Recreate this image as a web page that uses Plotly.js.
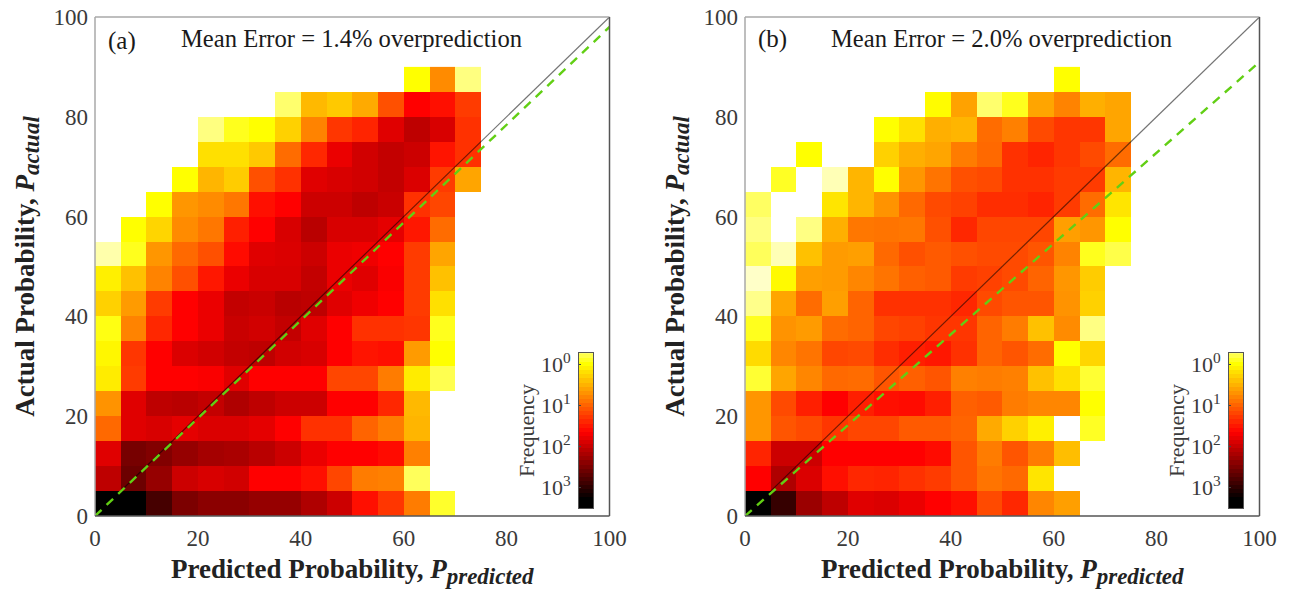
<!DOCTYPE html>
<html>
<head>
<meta charset="utf-8">
<script src="https://cdn.plot.ly/plotly-3.0.1.min.js"></script>
<style>html,body{margin:0;padding:0;background:#fff}#chart{width:1289px;height:595px}</style>
</head>
<body>
<div id="chart"></div>
<script>
// Bin centres of the 5-unit probability bins
var predictedBins = [2.5,7.5,12.5,17.5,22.5,27.5,32.5,37.5,42.5,47.5,52.5,57.5,62.5,67.5,72.5];
var actualBins = [2.5,7.5,12.5,17.5,22.5,27.5,32.5,37.5,42.5,47.5,52.5,57.5,62.5,67.5,72.5,77.5,82.5,87.5];

// log10(frequency) of each cell; first row is the lowest
var N = null;
var logFreqA = [
[3.3,3.3,2.85,2.5,2.4,2.4,2.33,2.33,2.17,1.98,1.55,1.3,.85,-.12,N],
[2.07,2.6,2.33,1.98,1.9,1.95,1.65,1.65,1.55,1.2,.85,.82,-.25,N,N],
[1.85,2.53,2.46,2.33,2.23,2.2,2.1,1.98,1.78,1.65,1.65,1.58,.82,N,N],
[.97,1.85,1.9,1.82,1.88,1.88,1.82,1.65,1.33,1.33,1.0,.85,.48,N,N],
[.7,1.85,2.07,2.1,2.04,2.17,2.07,1.98,1.98,1.65,1.65,1.4,.45,N,N],
[.12,1.27,1.65,1.65,1.68,1.85,1.65,1.65,1.65,1.2,1.2,.85,.12,-.22,N],
[.05,1.3,1.65,1.88,1.95,2.04,2.07,1.95,1.9,1.65,1.52,1.55,.65,0,N],
[-.05,.8,1.4,1.65,1.78,2.0,1.95,2.04,1.85,1.65,1.33,1.33,1.3,-.08,N],
[.3,.65,1.27,1.65,1.78,2.04,2.0,2.1,2.07,1.85,1.75,1.65,1.27,.2,N],
[.1,.4,.8,1.13,1.5,1.78,1.9,1.9,2.04,1.78,1.85,1.68,1.27,.4,N],
[-.47,-.08,.68,.97,1.13,1.58,1.85,1.88,1.98,1.78,1.75,1.65,1.27,.58,N],
[N,0,.27,.75,.88,1.45,1.65,1.9,2.1,1.9,1.9,1.82,1.5,.95,N],
[N,N,0,.68,.75,.88,1.55,1.65,1.98,1.98,2.07,2.0,1.33,1.2,N],
[N,N,N,0,.48,.33,1.13,1.33,1.85,1.9,1.95,2.04,1.88,1.27,.58],
[N,N,N,N,.2,.2,.35,.95,1.4,1.78,1.95,2.04,1.98,1.52,1.33],
[N,N,N,N,-.35,-.08,0,.3,.8,1.3,1.42,1.85,2.07,1.9,1.33],
[N,N,N,N,N,N,N,-.3,.45,.35,.55,1.13,1.65,1.55,1.27],
[N,N,N,N,N,N,N,N,N,N,N,N,0,.75,-.35]
];
var logFreqB = [
[3.3,2.95,2.3,2.07,1.85,1.88,1.78,1.65,1.55,1.17,1.4,.78,.62,N,N],
[1.65,2.17,1.88,1.55,1.4,1.42,1.33,1.27,1.1,.9,.97,.17,N,N,N],
[1.42,1.98,1.98,1.65,1.65,1.65,1.65,1.58,1.1,.85,1.1,.85,.42,N,N],
[.68,1.1,1.17,1.3,1.2,1.2,1.07,1.07,1.0,.55,.3,.1,N,-.1,N],
[.68,1.17,1.45,1.65,1.45,1.55,1.58,1.45,1.03,1.07,.85,.78,.78,0,N],
[-.14,.58,.78,.97,.95,1.1,1.03,1.1,.82,.85,.82,.4,.2,-.14,N],
[.23,.78,.9,1.2,1.17,1.36,1.45,1.5,1.33,1.0,1.1,.95,0,.27,N],
[-.08,.7,.65,.95,1.0,1.2,1.23,1.3,1.3,1.0,.85,.4,.75,-.36,N],
[-.38,.58,.95,.62,1.0,1.33,1.33,1.33,1.4,1.17,1.1,1.1,.7,.3,N],
[-.55,.03,.62,.65,.78,.9,1.03,1.07,1.27,1.23,1.17,1.0,.68,.33,N],
[-.25,-.5,.4,.65,.62,.97,1.13,1.07,1.13,1.17,1.17,1.1,.8,-.08,-.2],
[-.36,N,-.36,.52,.88,.9,.88,1.13,1.4,1.2,1.2,1.2,.62,.68,0],
[-.27,N,N,.17,.48,.7,.97,1.17,1.23,1.36,1.36,1.42,1.27,.95,.17],
[N,-.1,N,-.5,.48,0,.68,.9,1.13,1.17,1.33,1.33,1.27,1.27,.48],
[N,N,0,N,N,.3,.52,.58,.85,.97,1.33,1.42,1.3,1.17,.95],
[N,N,N,N,N,0,.2,.52,.48,.95,.82,1.17,1.3,1.3,.58],
[N,N,N,N,N,N,N,.02,.6,-.3,-.08,.58,.8,.52,.58],
[N,N,N,N,N,N,N,N,N,N,N,N,0,N,N]
];

var identityX = [0,100];
var identityY = [0,100];
var fitA = [0,98];
var fitB = [0,91];
var axisTicks = [0,20,40,60,80,100];
var titleA = 'Mean Error = 1.4% overprediction';
var titleB = 'Mean Error = 2.0% overprediction';

// Colour-key ramp and ticks
var keyLevels = [-.3,-.2,-.1,0,.1,.2,.3,.4,.5,.6,.7,.8,.9,1,1.1,1.2,1.3,1.4,1.5,1.6,1.7,1.8,1.9,2,2.1,2.2,2.3,2.4,2.5,2.6,2.7,2.8,2.9,3,3.1,3.2,3.3,3.4,3.5];
var keyTicks = [0,1,2,3];
var keyLabels = ['10<sup>0</sup>','10<sup>1</sup>','10<sup>2</sup>','10<sup>3</sup>'];

var zMin = -0.7, zMax = 3.3;
var ramp = [[0,'#ffffff'],[0.175,'#ffff00'],[0.5875,'#ff0000'],[1,'#000000']];
var SERIF = '"Liberation Serif","Times New Roman",serif';
var W = 1289, H = 595;
var TICK = '#3a3a3a';
var SUB = '<span style="font-size:23px">';

function hm(z, xa, ya){
  return {type:'heatmap', x:predictedBins, y:actualBins, z:z, xaxis:xa, yaxis:ya,
    colorscale:ramp, zmin:zMin, zmax:zMax, showscale:false, hoverongaps:false};
}
function ln(y, xa, ya, color, width, dash, op){
  return {type:'scatter', mode:'lines', x:identityX, y:y, xaxis:xa, yaxis:ya, opacity:op,
    line:{color:color,width:width,dash:dash}, showlegend:false, hoverinfo:'skip'};
}
function key(xa, ya){
  return {type:'heatmap', x:[0], y:keyLevels, z:keyLevels.map(function(v){return [v];}), xaxis:xa, yaxis:ya,
    colorscale:ramp, zmin:zMin, zmax:zMax, showscale:false, hoverinfo:'skip'};
}
var data = [
  hm(logFreqA,'x','y'), ln(identityY,'x','y','#000000',1.2,'solid',0.55), ln(fitA,'x','y','#62cf14',2.4,'9px,7px',1),
  hm(logFreqB,'x2','y2'), ln(identityY,'x2','y2','#000000',1.2,'solid',0.55), ln(fitB,'x2','y2','#62cf14',2.4,'9px,7px',1),
  key('x3','y3'), key('x4','y4')
];

function xAxis(l, r, anchor){
  return {domain:[l/W,r/W], anchor:anchor, range:[0,100], tickmode:'array', tickvals:axisTicks, ticks:'', showgrid:false, zeroline:false,
    tickfont:{family:SERIF,size:23,color:TICK}, ticklabelstandoff:6,
    title:{text:'<b>Predicted Probability, <i>P</i><sub><i>'+SUB+'predicted</span></i></sub></b>', font:{family:SERIF,size:27,color:'#222'}, standoff:9},
    showline:false, automargin:false};
}
function yAxis(anchor){
  return {domain:[1-516/H,1-17/H], anchor:anchor, range:[0,100], tickmode:'array', tickvals:axisTicks, ticks:'', showgrid:false, zeroline:false,
    tickfont:{family:SERIF,size:23,color:TICK}, ticklabelstandoff:6,
    title:{text:'<b>Actual Probability, <i>P</i><sub><i>'+SUB+'actual</span></i></sub></b>', font:{family:SERIF,size:27,color:'#222'}, standoff:11},
    showline:false, automargin:false};
}
function keyX(l, r, anchor){
  return {domain:[l/W,r/W], anchor:anchor, range:[-0.5,0.5], showticklabels:false, ticks:'', showgrid:false, zeroline:false,
    showline:true, mirror:true, linecolor:'#555', linewidth:1};
}
function keyY(anchor){
  return {domain:[1-508/H,1-353/H], anchor:anchor, range:[3.5,-0.27], tickmode:'array', tickvals:keyTicks, ticktext:keyLabels,
    ticks:'inside', ticklen:2, tickcolor:'#444', showgrid:false, zeroline:false,
    tickfont:{family:SERIF,size:22,color:TICK}, ticklabelstandoff:3,
    title:{text:'Frequency', font:{family:SERIF,size:22,color:TICK}, standoff:0},
    showline:true, mirror:true, linecolor:'#555', linewidth:1, automargin:false};
}
function frame(xa, ya){
  var xd = xa+' domain', yd = ya+' domain', lite='#a8a8a8', dark='#555555';
  return [
    {type:'line',xref:xd,yref:yd,x0:0,x1:1,y0:1,y1:1,line:{color:lite,width:1.5},layer:'above'},
    {type:'line',xref:xd,yref:yd,x0:0,x1:0,y0:0,y1:1,line:{color:lite,width:1.5},layer:'above'},
    {type:'line',xref:xd,yref:yd,x0:0,x1:1,y0:0,y1:0,line:{color:dark,width:1.5},layer:'above'},
    {type:'line',xref:xd,yref:yd,x0:1,x1:1,y0:0,y1:1,line:{color:dark,width:1.5},layer:'above'}
  ];
}
function note(text, x, y, size, anchor){
  return {text:text, xref:'paper', yref:'paper', x:x/W, y:1-y/H, xanchor:anchor||'left', yanchor:'middle', showarrow:false,
    font:{family:SERIF,size:size,color:'#1a1a1a'}};
}

var layout = {
  width:W, height:H, margin:{l:0,r:0,t:0,b:0}, paper_bgcolor:'#ffffff', plot_bgcolor:'#ffffff', showlegend:false,
  xaxis:xAxis(95,609.5,'y'), yaxis:yAxis('x'),
  xaxis2:xAxis(745,1259.5,'y2'), yaxis2:yAxis('x2'),
  xaxis3:keyX(579,593,'y3'), yaxis3:keyY('x3'),
  xaxis4:keyX(1229,1243,'y4'), yaxis4:keyY('x4'),
  shapes:frame('x','y').concat(frame('x2','y2')),
  annotations:[
    note('(a)',106,41,25), note(titleA,179,39,24.6),
    note('(b)',756,39,25), note(titleB,829,39,24.6)
  ]
};
Plotly.newPlot('chart', data, layout, {displayModeBar:false, staticPlot:true});
</script>
</body>
</html>
